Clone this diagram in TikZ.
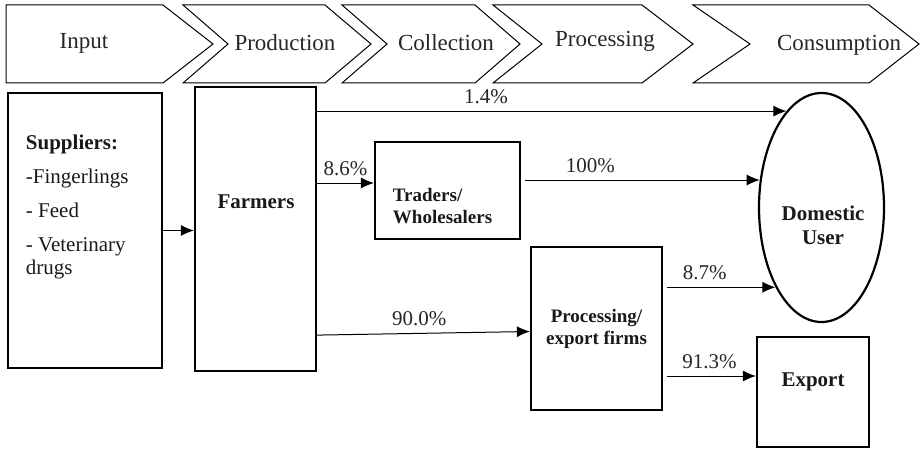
\documentclass[tikz,border=0pt]{standalone}
\usepackage{fontspec}
\setmainfont{Liberation Serif}
\usetikzlibrary{shapes.geometric,arrows.meta}
\tikzset{
	box/.style={draw, line width=1.1pt, rectangle, inner sep=0pt},
	lbl/.style={font=\fontsize{10.5}{12}\selectfont\bfseries, align=center, text=black!90},
	small/.style={font=\fontsize{9.5}{11}\selectfont\bfseries, text=black!90},
	arr/.style={-{Latex[length=6.5pt,width=5.5pt]}, line width=0.5pt},
	pct/.style={above, font=\fontsize{10.5}{12}\selectfont, text=black!85},
	stage/.style={draw, line width=0.5pt},
	stagetxt/.style={font=\fontsize{11.5}{13}\selectfont, text=black!85}
}
\begin{document}
\begin{tikzpicture}[x=0.5pt,y=-0.5pt]
	\useasboundingbox (0,0) rectangle (920,449);
	% stages
	\draw[stage] (6,5) -- (163,5) -- (213,44) -- (163,83) -- (6,83) -- cycle;
	\draw[stage] (183,5) -- (325,5) -- (371,44) -- (325,83) -- (183,83) -- (228,44) -- cycle;
	\draw[stage] (342,5) -- (475,5) -- (520,44) -- (475,83) -- (342,83) -- (387,44) -- cycle;
	\draw[stage] (493,5) -- (642,5) -- (693,44) -- (642,83) -- (493,83) -- (542,44) -- cycle;
	\draw[stage] (693,5) -- (869,5) -- (919,44) -- (869,83) -- (693,83) -- (750,44) -- cycle;
	\node[stagetxt] (sinp) at (84,43) {Input};
	\node[stagetxt] (sprod) at (285,43) {Production};
	\node[stagetxt] (scoll) at (446,43) {Collection};
	\node[stagetxt] (sproc) at (605,41) {Processing};
	\node[stagetxt] (scons) at (839,45) {Consumption};
	% actors
	\node[box, minimum width=77pt, minimum height=137.5pt] (sup) at (85,230.5) {};
	\node[anchor=north west, align=left, font=\fontsize{10.5}{11.5}\selectfont, text=black!90] (suptxt) at ([xshift=6pt,yshift=-18pt]sup.north west)
		{\textbf{Suppliers:}\\[5.5pt]-Fingerlings\\[5.5pt]- Feed\\[5.5pt]- Veterinary\\drugs};
	\node[box, minimum width=60.5pt, minimum height=142pt] (farm) at (255.5,229) {};
	\node[lbl] (farmtxt) at (256,202) {Farmers};
	\node[box, minimum width=72.5pt, minimum height=48.5pt] (trade) at (447.5,190.5) {};
	\node[small, align=left, anchor=west] (tradetxt) at ([xshift=6pt,yshift=-8pt]trade.west) {Traders/\\Wholesalers};
	\node[box, small, align=center, minimum width=65.5pt, minimum height=81.5pt] (proc) at (596.5,328.5) {Processing/\\export firms};
	\node[box, minimum width=56pt, minimum height=55pt] (exp) at (813,392) {};
	\node[lbl] (exptxt) at (813,382) {Export};
	\node[draw, ellipse, line width=1.1pt, inner sep=0pt, minimum width=62.5pt, minimum height=114.5pt] (user) at (821.5,207.5) {};
	\node[lbl] (usertxt) at (823,225) {Domestic\\User};
	% flows
	\coordinate (t86) at ([yshift=3.75pt]trade.west);
	\coordinate (e913) at ([yshift=8pt]exp.west);
	\draw[arr] (sup.east) -- (farm.west |- sup.east);
	\draw[arr] (farm.east |- user.110) -- (user.110) node[pct, pos=0.36] {1.4\%};
	\draw[arr] (farm.east |- t86) -- (t86) node[pct, pos=0.5] {8.6\%};
	\draw[arr] ([yshift=18.5pt]farm.south east) -- ([yshift=-1.5pt]proc.west) node[pct, pos=0.48] {90.0\%};
	\draw[arr, shorten <=2pt] (trade.east |- user.156) -- (user.156) node[pct, pos=0.29] {100\%};
	\draw[arr, shorten <=2pt] (proc.east |- user.240) -- (user.240) node[pct, pos=0.37] {8.7\%};
	\draw[arr, shorten <=2pt] (proc.east |- e913) -- (e913) node[pct, pos=0.5] {91.3\%};
\end{tikzpicture}
\end{document}
